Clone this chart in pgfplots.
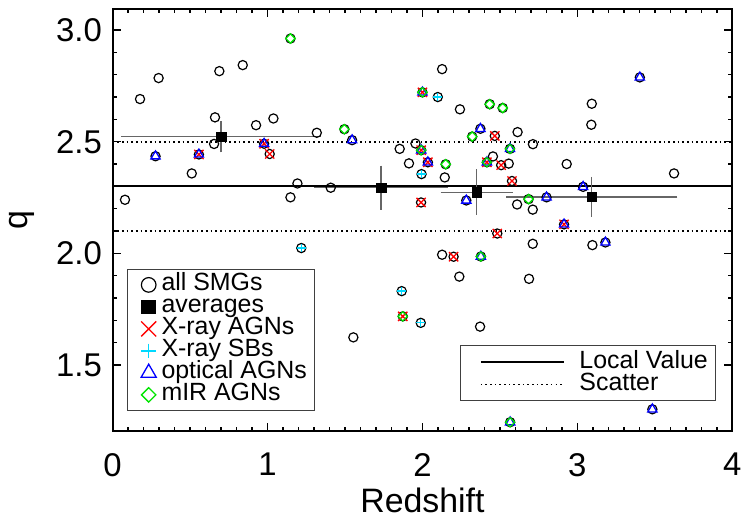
\documentclass[border=0pt]{standalone}
\usepackage{fontspec}
\setmainfont{Liberation Sans}
\usepackage{pgfplots}
\pgfplotsset{compat=1.18}
\usepackage{pgfplotstable}

\definecolor{xagn}{rgb}{1,0,0}
\definecolor{xsb}{rgb}{0,0.85,1}
\definecolor{oagn}{rgb}{0,0,1}
\definecolor{miragn}{rgb}{0,0.9,0}

% all SMGs
\pgfplotstableread{
x y
0.080 2.240
0.177 2.691
0.297 2.785
0.277 2.435
0.511 2.358
0.557 2.443
0.689 2.816
0.661 2.609
0.655 2.490
0.840 2.843
0.926 2.574
1.038 2.604
0.978 2.491
1.014 2.445
1.193 2.313
1.148 2.251
1.148 2.962
1.318 2.540
1.408 2.294
1.496 2.556
1.546 2.507
1.853 2.468
1.913 2.403
1.955 2.492
2.000 2.721
1.992 2.462
2.035 2.408
1.994 2.355
1.991 2.228
2.099 2.700
2.127 2.825
2.242 2.645
2.434 2.668
2.518 2.651
2.614 2.543
2.374 2.558
2.321 2.523
2.467 2.526
2.713 2.489
2.565 2.468
2.150 2.399
2.455 2.434
2.416 2.408
2.508 2.395
2.557 2.402
2.144 2.340
2.578 2.324
3.037 2.298
2.283 2.237
2.611 2.219
2.685 2.243
2.712 2.196
2.801 2.251
2.931 2.400
3.093 2.670
3.090 2.576
3.403 2.788
3.624 2.358
1.218 2.024
1.866 1.831
1.873 1.718
1.989 1.689
1.554 1.624
2.483 2.089
2.914 2.130
3.181 2.049
3.097 2.037
2.127 1.994
2.201 1.985
2.377 1.986
2.712 2.043
2.238 1.896
2.688 1.886
2.372 1.672
3.484 1.302
2.566 1.244
}\smgs

\pgfplotstableread{
x y ex ey
0.700 2.522 0.62 0.054
1.733 2.294 0.41 0.083
2.350 2.274 0.21 0.086
3.093 2.253 0.53 0.074
}\avgs

\pgfplotstableread{
x y
0.557 2.443
0.978 2.491
1.014 2.445
2.000 2.721
1.992 2.462
2.035 2.408
1.991 2.228
2.467 2.526
2.416 2.408
2.508 2.395
2.578 2.324
1.873 1.718
2.483 2.089
2.914 2.130
2.201 1.985
}\xagns

\pgfplotstableread{
x y
1.994 2.355
2.099 2.700
1.218 2.024
1.866 1.831
1.989 1.689
}\xsbs

\pgfplotstableread{
x y
0.277 2.435
0.557 2.443
0.978 2.491
1.546 2.507
2.000 2.721
1.992 2.462
2.035 2.408
2.374 2.558
2.565 2.468
2.416 2.408
3.037 2.298
2.283 2.237
2.801 2.251
3.403 2.788
2.914 2.130
3.181 2.049
2.377 1.986
3.484 1.302
2.566 1.244
}\oagns

\pgfplotstableread{
x y
1.148 2.962
1.496 2.556
2.000 2.721
1.992 2.462
2.434 2.668
2.518 2.651
2.321 2.523
2.565 2.468
2.150 2.399
2.416 2.408
2.685 2.243
1.873 1.718
2.377 1.986
2.566 1.244
}\miragns

\pgfplotsset{
  qframe/.style={
    width=619.7bp, height=421bp, scale only axis,
    xmin=0, xmax=4, ymin=1.207, ymax=3.092,
  },
}

\begin{document}
\begin{tikzpicture}
\begin{axis}[
  qframe,
  name=main,
  xtick={0,1,2,3,4},
  ytick={1.5,2.0,2.5,3.0},
  minor x tick num=9,
  minor y tick num=4,
  major tick length=8bp,
  minor tick length=4bp,
  tick style={black, line width=1.5bp},
  axis line style={line width=2bp},
  /pgf/number format/assume math mode=true,
  y tick label style={/pgf/number format/fixed, /pgf/number format/fixed zerofill, /pgf/number format/precision=1},
  ticklabel style={font=\fontsize{33}{33}\selectfont},
  xticklabel style={inner sep=0pt, yshift=-22.5bp},
  yticklabel style={inner sep=0pt, xshift=-10.6bp},
  label style={font=\fontsize{34}{34}\selectfont, inner sep=0pt},
  xlabel={Redshift},
  ylabel={q},
  xlabel style={at={(axis description cs:0.5,-0.1936)}, anchor=base},
  ylabel style={at={(axis description cs:-0.1372,0.5)}, anchor=base},
  legend image code/.code={
    \path[draw=none, fill=none] (-13.5bp,0bp) -- (7.5bp,0bp);
    \draw[#1] plot coordinates {(0bp,0bp)};
  },
  legend cell align=left,
  legend style={
    at={(rel axis cs:0.02275,0.3841)}, anchor=north west,
    draw=black!75, line width=1bp,
    inner xsep=8bp, inner ysep=4.6bp,
    row sep=0pt, column sep=5.3bp,
    font=\fontsize{25}{22}\selectfont,
    nodes={inner sep=0pt, text height=16.8bp, text depth=5.2bp},
  },
]
% local value and scatter
\addplot[forget plot, black, line width=2bp] coordinates {(0,2.3) (4,2.3)};
\addplot[forget plot, black, line width=1.6bp, dash pattern=on 1.6bp off 3.07bp] coordinates {(0,2.5) (4,2.5)};
\addplot[forget plot, black, line width=1.6bp, dash pattern=on 1.6bp off 3.07bp] coordinates {(0,2.1) (4,2.1)};

% all SMGs
\addplot[forget plot, only marks, mark=o, mark size=4.6bp, black, line width=1.2bp] table {\smgs};

% averages with errors
\addplot[forget plot, only marks, mark=square*, mark size=4.7bp, black,
  error bars/.cd, x dir=both, x explicit, y dir=both, y explicit,
  error bar style={black!60, line width=1.3bp},
  error mark options={black!60, line width=1.3bp, mark size=3.5bp}]
  table[x=x, y=y, x error=ex, y error=ey] {\avgs};

% classifications
\addplot[forget plot, only marks, mark=x, mark size=6.5bp, xagn, line width=1.3bp] table {\xagns};
\addplot[forget plot, only marks, mark=+, mark size=4.3bp, xsb, line width=1.3bp] table {\xsbs};
\addplot[forget plot, only marks, mark=triangle, mark size=5.3bp, oagn, line width=1.3bp] table {\oagns};
\addplot[forget plot, only marks, mark=square, mark size=3.3bp, mark options={rotate=45}, miragn, line width=1.3bp] table {\miragns};

\addlegendimage{only marks, mark=o, mark size=7.3bp, black, line width=1.2bp}
\addlegendentry{all SMGs}
\addlegendimage{only marks, mark=square*, mark size=6.8bp, black}
\addlegendentry{averages}
\addlegendimage{only marks, mark=x, mark size=10.6bp, xagn, line width=1.3bp}
\addlegendentry{X-ray AGNs}
\addlegendimage{only marks, mark=+, mark size=7.2bp, xsb, line width=1.3bp}
\addlegendentry{X-ray SBs}
\addlegendimage{only marks, mark=triangle, mark size=8.7bp, oagn, line width=1.3bp}
\addlegendentry{optical AGNs}
\addlegendimage{only marks, mark=square, mark size=5.1bp, mark options={rotate=45}, miragn, line width=1.3bp}
\addlegendentry{mIR AGNs}
\end{axis}

\begin{axis}[
  qframe,
  hide axis,
  legend image code/.code={
    \path[draw=none, fill=none] (-13bp,0bp) -- (0bp,0bp);
    \draw[#1] (0bp,0bp) -- (83bp,0bp);
  },
  legend cell align=left,
  legend style={
    at={(rel axis cs:0.9737,0.2019)}, anchor=north east,
    draw=black!75, line width=1bp,
    inner xsep=7.7bp, inner ysep=5.5bp,
    row sep=0pt, column sep=14.7bp,
    font=\fontsize{25}{22}\selectfont,
    nodes={inner sep=0pt, text height=16.8bp, text depth=5.2bp},
  },
]
\addplot[forget plot, draw=none] coordinates {(0,2)};
\addlegendimage{black, line width=2bp}
\addlegendentry{Local Value}
\addlegendimage{black, line width=1.6bp, dash pattern=on 1.6bp off 3.07bp}
\addlegendentry{Scatter}
\end{axis}

\path ([shift={(-112.6bp,-85.5bp)}]main.south west) rectangle ([shift={(9.7bp,9.5bp)}]main.north east);
\end{tikzpicture}
\end{document}
